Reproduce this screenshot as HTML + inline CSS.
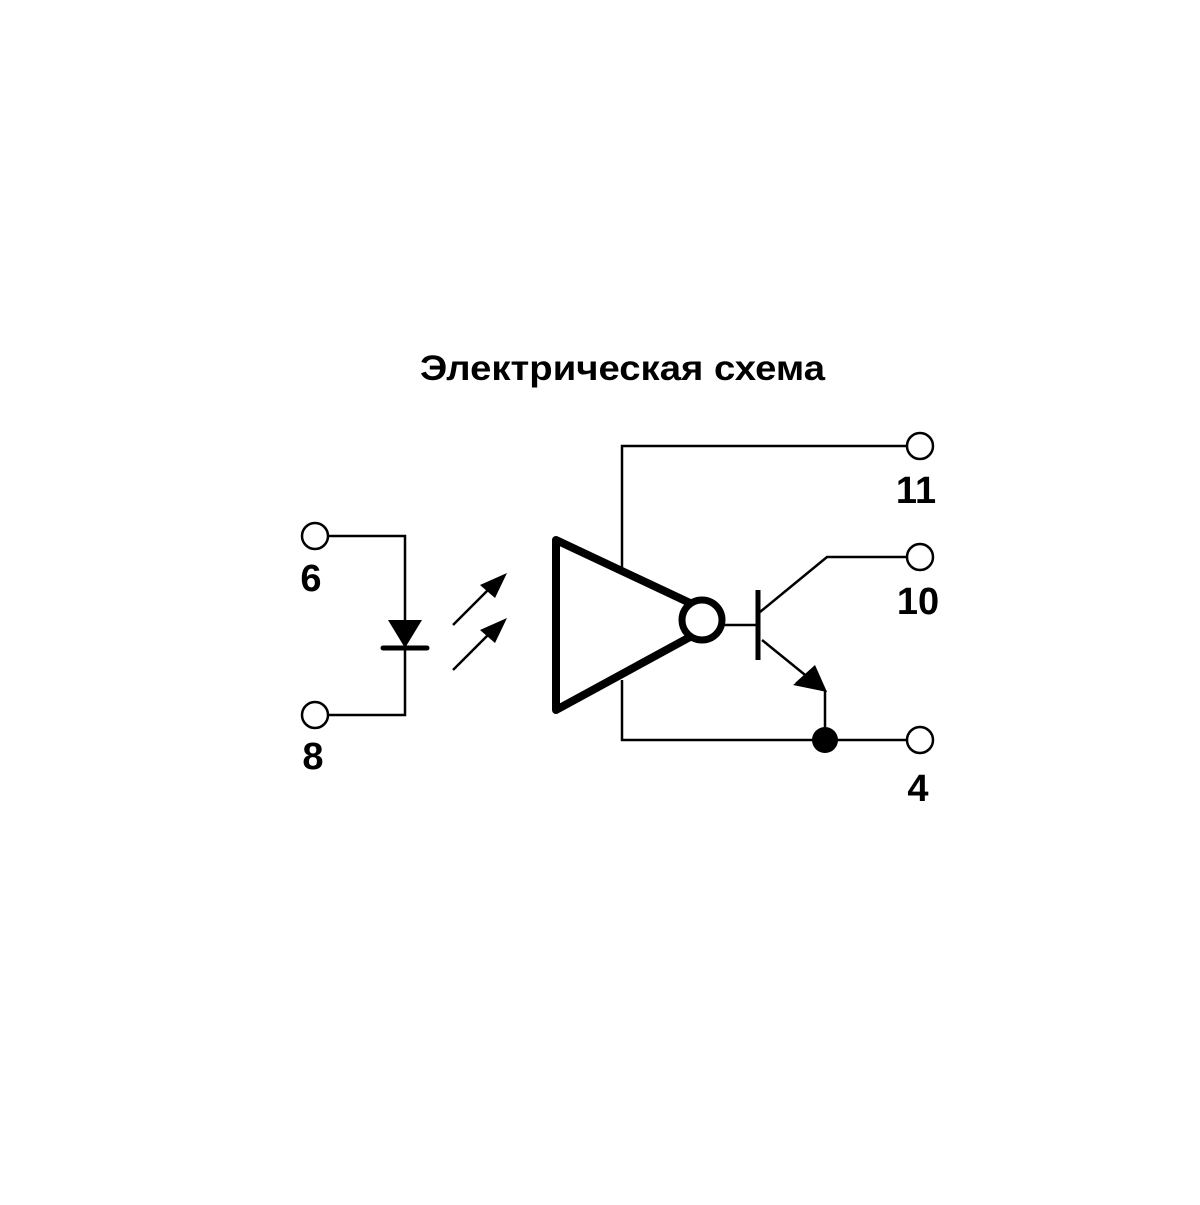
<!DOCTYPE html>
<html><head><meta charset="utf-8"><style>html,body{margin:0;padding:0;background:#fff}</style></head>
<body>
<svg width="1200" height="1200" viewBox="0 0 1200 1200" xmlns="http://www.w3.org/2000/svg">
<rect width="1200" height="1200" fill="#fff"/>
<text x="420" y="380" font-family="Liberation Sans, sans-serif" font-weight="bold" font-size="35" textLength="405" lengthAdjust="spacingAndGlyphs" fill="#000">Электрическая схема</text>
<g fill="none" stroke="#000" stroke-width="2.5">
<polyline points="328,536 405,536 405,715 328,715"/>
<circle cx="315" cy="536" r="13" fill="#fff"/>
<circle cx="315" cy="715" r="13" fill="#fff"/>
<line x1="453" y1="625" x2="495" y2="583"/>
<line x1="453" y1="670" x2="495" y2="628"/>
<polyline points="622,570 622,446 907,446"/>
<polyline points="622,680 622,740 907,740"/>
<line x1="722" y1="625" x2="758" y2="625"/>
<polyline points="760,612 827,557 907,557"/>
<line x1="762" y1="640" x2="815" y2="683"/>
<line x1="825" y1="690" x2="825" y2="740"/>
<circle cx="920" cy="446" r="13" fill="#fff"/>
<circle cx="920" cy="557" r="13" fill="#fff"/>
<circle cx="920" cy="740" r="13" fill="#fff"/>
</g>
<line x1="758" y1="590" x2="758" y2="660" stroke="#000" stroke-width="5"/>
<polygon points="388,620 422,620 405,648" fill="#000"/>
<line x1="383" y1="648" x2="427" y2="648" stroke="#000" stroke-width="5" stroke-linecap="round"/>
<polygon points="507,573 480,585 495,598" fill="#000"/>
<polygon points="507,618 480,630 495,643" fill="#000"/>
<polygon points="556,540 556,710 690,637 690,603" fill="none" stroke="#000" stroke-width="8" stroke-linejoin="round"/>
<circle cx="702" cy="620" r="20" fill="#fff" stroke="#000" stroke-width="7"/>
<polygon points="827,692 793,685 812,671" fill="#000"/>
<polygon points="827,692 795,683 815,665" fill="#000"/>
<circle cx="825" cy="740" r="13" fill="#000"/>
<g font-family="Liberation Sans, sans-serif" font-weight="bold" font-size="38" fill="#000" text-anchor="middle">
<text x="311" y="591">6</text>
<text x="313" y="769">8</text>
<text x="916" y="503">11</text>
<text x="918" y="614">10</text>
<text x="918" y="801">4</text>
</g>
</svg>
</body></html>
